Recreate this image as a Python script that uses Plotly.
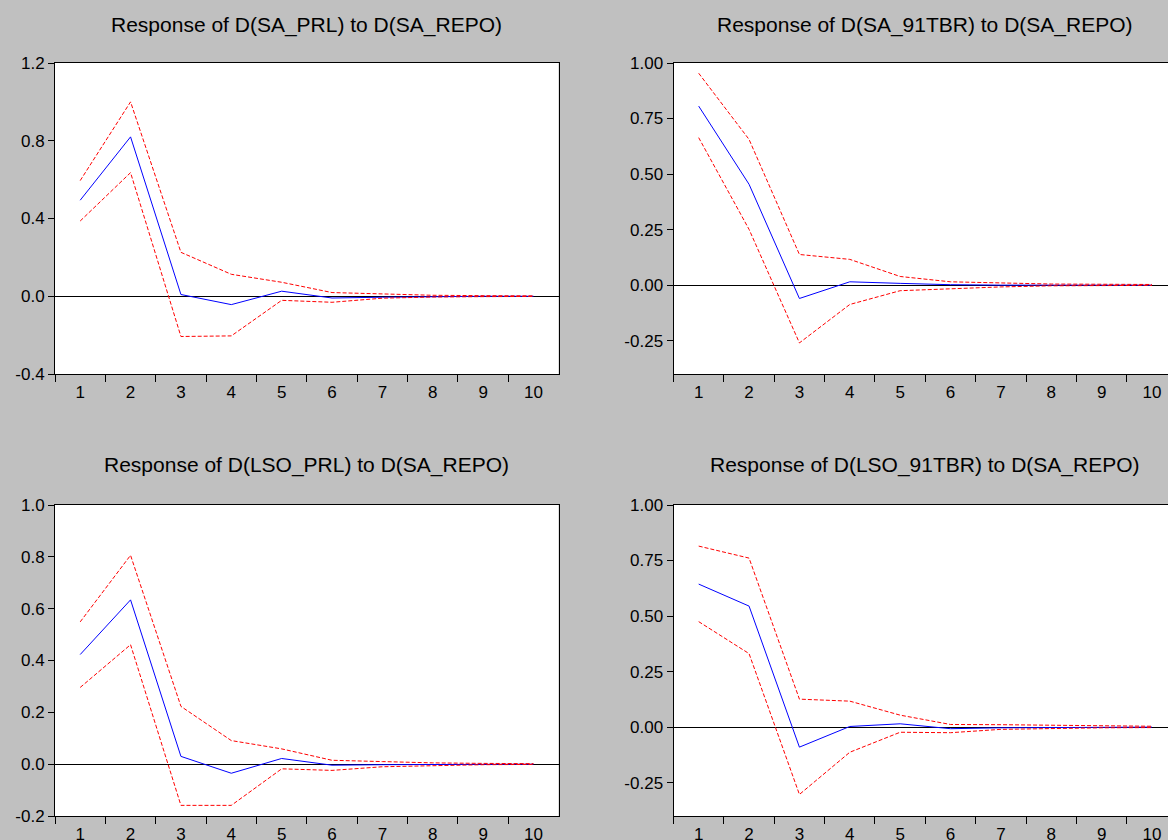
import plotly.graph_objects as go

# ---------------- data ----------------
periods = ["1", "2", "3", "4", "5", "6", "7", "8", "9", "10"]

titles = [
    "Response of D(SA_PRL) to D(SA_REPO)",
    "Response of D(SA_91TBR) to D(SA_REPO)",
    "Response of D(LSO_PRL) to D(SA_REPO)",
    "Response of D(LSO_91TBR) to D(SA_REPO)",
]

prl_resp = [0.494, 0.820, 0.009, -0.043, 0.026, -0.009, -0.005, -0.002, 0.000, 0.000]
prl_upper = [0.595, 1.000, 0.226, 0.113, 0.072, 0.019, 0.012, 0.005, 0.003, 0.002]
prl_lower = [0.387, 0.636, -0.207, -0.204, -0.021, -0.031, -0.010, -0.004, -0.002, -0.001]

tbr_resp = [0.806, 0.454, -0.060, 0.015, 0.008, 0.002, 0.000, 0.000, 0.000, 0.000]
tbr_upper = [0.954, 0.656, 0.138, 0.116, 0.039, 0.015, 0.010, 0.005, 0.004, 0.003]
tbr_lower = [0.664, 0.251, -0.260, -0.087, -0.025, -0.015, -0.008, -0.003, -0.001, -0.001]

lso_prl_resp = [0.423, 0.634, 0.030, -0.035, 0.022, -0.004, -0.002, -0.001, 0.000, 0.000]
lso_prl_upper = [0.549, 0.806, 0.223, 0.091, 0.059, 0.015, 0.010, 0.005, 0.003, 0.002]
lso_prl_lower = [0.296, 0.461, -0.159, -0.159, -0.018, -0.024, -0.010, -0.005, -0.002, -0.001]

lso_tbr_resp = [0.644, 0.545, -0.090, 0.003, 0.015, -0.007, -0.003, -0.001, 0.000, 0.000]
lso_tbr_upper = [0.815, 0.761, 0.126, 0.117, 0.054, 0.012, 0.011, 0.008, 0.005, 0.004]
lso_tbr_lower = [0.475, 0.331, -0.303, -0.113, -0.023, -0.025, -0.010, -0.005, -0.003, -0.002]

yticks_a = [-0.4, 0.0, 0.4, 0.8, 1.2]
yticktext_a = ["-0.4", "0.0", "0.4", "0.8", "1.2"]
yticks_b = [-0.25, 0.0, 0.25, 0.5, 0.75, 1.0]
yticktext_b = ["-0.25", "0.00", "0.25", "0.50", "0.75", "1.00"]
yticks_c = [-0.2, 0.0, 0.2, 0.4, 0.6, 0.8, 1.0]
yticktext_c = ["-0.2", "0.0", "0.2", "0.4", "0.6", "0.8", "1.0"]

# ---------------- layout geometry ----------------
W, H = 1168, 840
BIN = 50.37
FONT = "Liberation Sans, Arial, sans-serif"

panels = [
    dict(title=titles[0], resp=prl_resp, up=prl_upper, lo=prl_lower,
         yr=[-0.4, 1.2], yt=yticks_a, ytt=yticktext_a,
         px=(55, 558.5), py=(63, 374), right=True),
    dict(title=titles[1], resp=tbr_resp, up=tbr_upper, lo=tbr_lower,
         yr=[-0.4, 1.0], yt=yticks_b, ytt=yticktext_b,
         px=(673.5, 1168), py=(63, 374), right=False),
    dict(title=titles[2], resp=lso_prl_resp, up=lso_prl_upper, lo=lso_prl_lower,
         yr=[-0.2, 1.0], yt=yticks_c, ytt=yticktext_c,
         px=(55, 558.5), py=(505, 816), right=True),
    dict(title=titles[3], resp=lso_tbr_resp, up=lso_tbr_upper, lo=lso_tbr_lower,
         yr=[-0.4, 1.0], yt=yticks_b, ytt=yticktext_b,
         px=(673.5, 1168), py=(505, 816), right=False),
]

fig = go.Figure()
annotations = []
layout_axes = {}

for i, p in enumerate(panels):
    n = "" if i == 0 else str(i + 1)
    xa, ya = "x" + n, "y" + n
    common = dict(x=periods, xaxis=xa, yaxis=ya, mode="lines",
                  showlegend=False, hoverinfo="x+y")
    fig.add_trace(go.Scatter(y=p["resp"], line=dict(color="#0000FF", width=1), **common))
    fig.add_trace(go.Scatter(y=p["up"], line=dict(color="#FF0000", width=1, dash="4px,2px"), **common))
    fig.add_trace(go.Scatter(y=p["lo"], line=dict(color="#FF0000", width=1, dash="4px,2px"), **common))

    x0, x1 = p["px"]
    full_x1 = x0 + 10 * BIN
    xrange_max = -0.5 + (x1 - x0) / BIN
    layout_axes["xaxis" + n] = dict(
        type="category", domain=[x0 / W, min(x1 / W, 1.0)], anchor=ya,
        range=[-0.5, xrange_max], tickson="boundaries", automargin=False,
        ticks="outside", ticklen=7, tickwidth=1, tickcolor="black",
        ticklabelstandoff=3,
        showline=True, linecolor="black", linewidth=1, mirror=True,
        showgrid=False, zeroline=False,
        tickfont=dict(family=FONT, size=17, color="black"),
        fixedrange=True,
    )
    y0, y1 = p["py"]
    layout_axes["yaxis" + n] = dict(
        domain=[1 - y1 / H, 1 - y0 / H], anchor=xa, automargin=False,
        range=p["yr"], tickvals=p["yt"], ticktext=p["ytt"],
        ticks="outside", ticklen=6, tickwidth=1, tickcolor="black",
        showline=True, linecolor="black", linewidth=1, mirror=p["right"],
        showgrid=False, zeroline=True, zerolinecolor="black", zerolinewidth=1,
        tickfont=dict(family=FONT, size=17, color="black"),
        fixedrange=True,
    )
    cx = (x0 + full_x1) / 2
    ty = 25 if y0 < 200 else 465
    annotations.append(dict(
        text=p["title"], xref="paper", yref="paper",
        x=cx / W, y=1 - ty / H, xanchor="center", yanchor="middle",
        showarrow=False, font=dict(family=FONT, size=21, color="black"),
    ))

fig.update_layout(
    template="none",
    width=W, height=H, autosize=False,
    margin=dict(l=0, r=0, t=0, b=0, pad=0),
    paper_bgcolor="#C0C0C0", plot_bgcolor="white",
    annotations=annotations,
    **layout_axes,
)

fig.write_html(
    "out.html",
    config={"displayModeBar": False, "responsive": False},
    post_script="document.body.style.margin='0';document.body.style.overflow='hidden';",
)
